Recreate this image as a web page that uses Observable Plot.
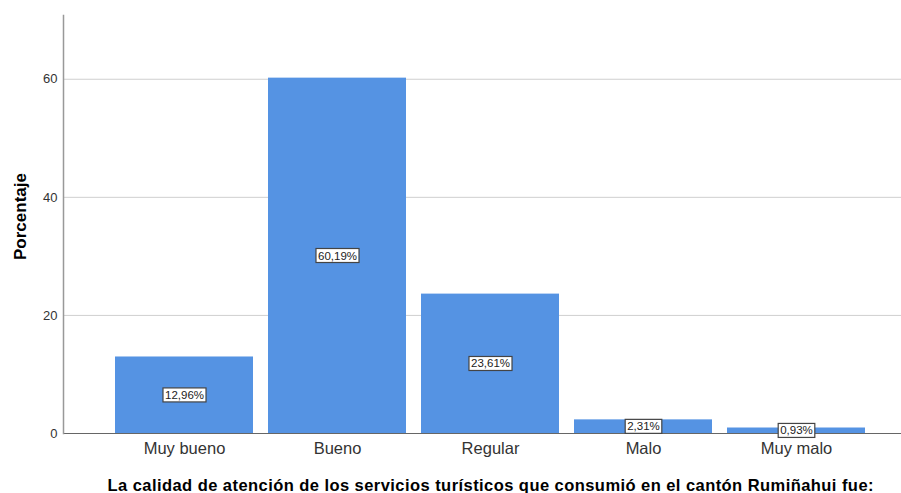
<!DOCTYPE html>
<html><head><meta charset="utf-8">
<script src="https://cdn.jsdelivr.net/npm/d3@7"></script>
<script src="https://cdn.jsdelivr.net/npm/@observablehq/plot@0.6"></script>
<style>body{margin:0;background:#fff;}</style>
</head><body><div id="chart"></div>
<script>
const categories = ["Muy bueno", "Bueno", "Regular", "Malo", "Muy malo"];
const percentages = [12.96, 60.19, 23.61, 2.31, 0.93];
const yTicks = [0, 20, 40, 60];
const yLabel = "Porcentaje";
const xLabel = "La calidad de atención de los servicios turísticos que consumió en el cantón Rumiñahui fue:";

const data = categories.map((c, i) => ({
  category: c,
  value: percentages[i],
  label: percentages[i].toFixed(2).replace(".", ",") + "%"
}));

const plot = Plot.plot({
  width: 901, height: 493,
  marginLeft: 63, marginRight: 0, marginTop: 15, marginBottom: 60,
  style: {fontFamily: "'Liberation Sans', Arial, sans-serif", background: "#fff"},
  x: {domain: categories, range: [106, 874], paddingInner: 0.1, paddingOuter: 0.05, label: null},
  y: {domain: [0, 70.8], label: null},
  marks: [
    Plot.gridY({ticks: yTicks, stroke: "#cfcfcf", strokeOpacity: 1}),
    Plot.barY(data, {x: "category", y: "value", fill: "#5593e3"}),
    Plot.ruleY([0], {stroke: "#666"}),
    Plot.frame({anchor: "left", stroke: "#999", strokeWidth: 1.5}),
    Plot.axisY({ticks: yTicks, tickSize: 0, tickPadding: 6, fontSize: 13, color: "#333", label: null}),
    Plot.axisX({tickSize: 0, tickPadding: 9, fontSize: 16.5, color: "#333", label: null}),
    Plot.text(data, {x: "category", y: d => d.value / 2, text: "label", fontSize: 11.5, fill: "#222", className: "vlabel"}),
    Plot.text([yLabel], {frameAnchor: "left", rotate: -90, dx: -43, dy: -8, textAnchor: "middle", lineAnchor: "middle", fontWeight: "bold", fontSize: 17, fill: "#000"}),
    Plot.text([xLabel], {frameAnchor: "bottom", dy: 52, dx: 8, textAnchor: "middle", lineAnchor: "middle", fontWeight: "bold", fontSize: 16.5, fill: "#000", className: "xtitle"})
  ]
});
document.getElementById("chart").appendChild(plot);

d3.select(plot).selectAll("g.xtitle text").attr("textLength", 766).attr("lengthAdjust", "spacing");

d3.select(plot).selectAll("g.vlabel text").each(function() {
  const b = this.getBBox();
  const t = this.getAttribute("transform");
  d3.select(this.parentNode).insert("rect", () => this)
    .attr("transform", t)
    .attr("x", b.x - 2).attr("y", b.y - 1)
    .attr("width", b.width + 4).attr("height", b.height + 2)
    .attr("fill", "#fff").attr("stroke", "#444").attr("stroke-width", 1.2);
});
</script>
</body></html>
